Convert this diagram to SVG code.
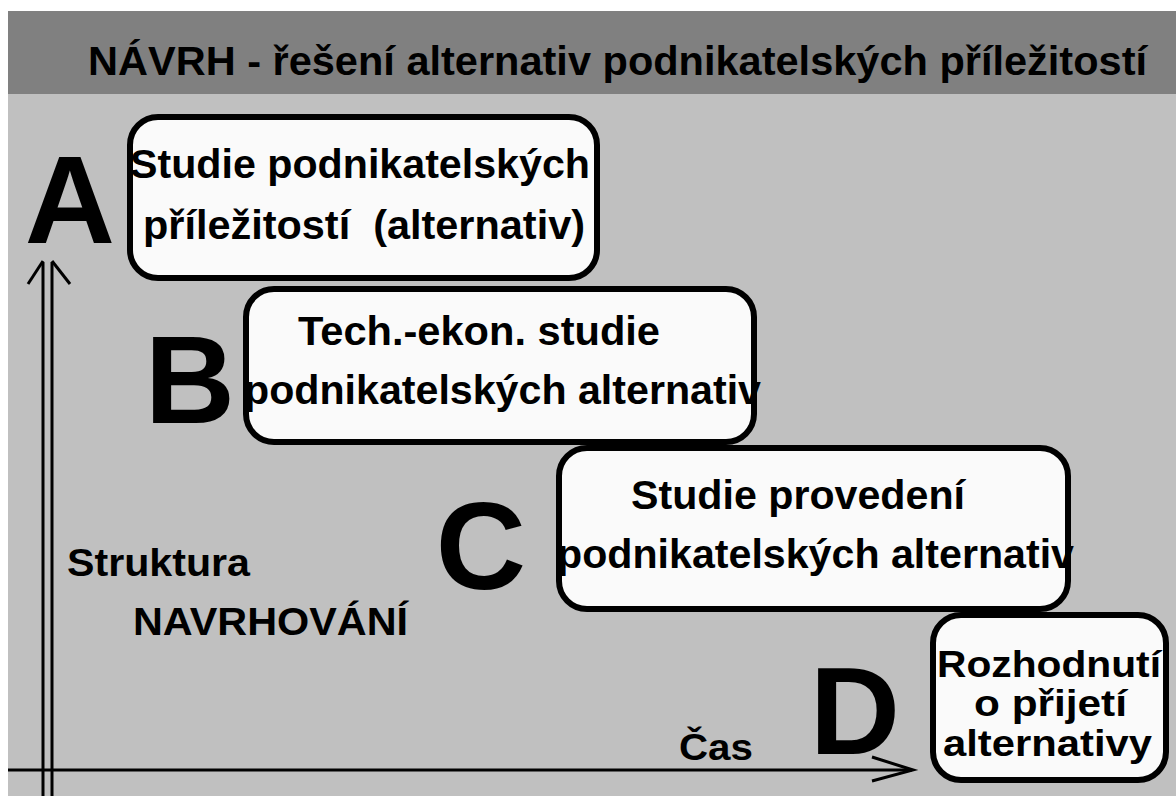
<svg xmlns="http://www.w3.org/2000/svg" width="1176" height="796" viewBox="0 0 1176 796">
<style>
.box{fill:#fafafa;stroke:#000;stroke-width:6}
.t{font-family:"Liberation Sans",Arial,sans-serif;font-weight:bold;fill:#000;font-size:41px}
.d{font-size:37px}
.big{font-family:"Liberation Sans",Arial,sans-serif;font-weight:bold;fill:#000;font-size:125px;text-anchor:middle}
.ax{stroke:#000;stroke-width:3;fill:none}
</style>
<rect x="0" y="0" width="1176" height="796" fill="#ffffff"/>
<rect x="8" y="11" width="1168" height="83" fill="#808080"/>
<rect x="8" y="94" width="1168" height="702" fill="#c0c0c0"/>
<text id="title" class="t" x="88" y="75" textLength="1059" lengthAdjust="spacingAndGlyphs">NÁVRH - řešení alternativ podnikatelských příležitostí</text>

<g id="connectors">
  <line class="ax" x1="43" y1="262" x2="43" y2="796"/>
  <line class="ax" x1="52" y1="262" x2="52" y2="796"/>
  <polyline class="ax" points="28,284 43,261"/>
  <polyline class="ax" points="52,261 70,284"/>
  <line class="ax" x1="8" y1="770" x2="912" y2="770"/>
  <polyline class="ax" points="872,757 913,770 872,781"/>
</g>

<g id="nodeA">
  <text class="big" x="70" y="243">A</text>
  <rect class="box" x="130" y="117" width="467" height="161" rx="28"/>
  <text class="t" x="130" y="178" textLength="460" lengthAdjust="spacingAndGlyphs">Studie podnikatelských</text>
  <text class="t" x="143" y="239" textLength="442" lengthAdjust="spacingAndGlyphs" xml:space="preserve">příležitostí  (alternativ)</text>
</g>

<g id="nodeB">
  <text class="big" x="190" y="423">B</text>
  <rect class="box" x="246" y="289" width="508" height="153" rx="28"/>
  <text class="t" x="298" y="345" textLength="362" lengthAdjust="spacingAndGlyphs">Tech.-ekon. studie</text>
  <text class="t" x="244" y="404" textLength="517" lengthAdjust="spacingAndGlyphs">podnikatelských alternativ</text>
</g>

<g id="nodeC">
  <text class="big" x="481" y="589">C</text>
  <rect class="box" x="559" y="448" width="509" height="161" rx="28"/>
  <text class="t" x="631" y="509" textLength="334" lengthAdjust="spacingAndGlyphs">Studie provedení</text>
  <text class="t" x="557" y="568" textLength="517" lengthAdjust="spacingAndGlyphs">podnikatelských alternativ</text>
</g>

<g id="nodeD">
  <text class="big" x="855" y="754">D</text>
  <rect class="box" x="933" y="615" width="233" height="165" rx="28"/>
  <text class="t d" x="937" y="677" textLength="224" lengthAdjust="spacingAndGlyphs">Rozhodnutí</text>
  <text class="t d" x="974" y="716" textLength="153" lengthAdjust="spacingAndGlyphs">o přijetí</text>
  <text class="t d" x="943" y="756" textLength="209" lengthAdjust="spacingAndGlyphs">alternativy</text>
</g>

<g id="labels">
  <text class="t" x="67" y="576" style="font-size:39px" textLength="183" lengthAdjust="spacingAndGlyphs">Struktura</text>
  <text class="t" x="133" y="635" style="font-size:39px" textLength="275" lengthAdjust="spacingAndGlyphs">NAVRHOVÁNÍ</text>
  <text class="t" x="679" y="760" style="font-size:37px" textLength="74" lengthAdjust="spacingAndGlyphs">Čas</text>
</g>
</svg>
